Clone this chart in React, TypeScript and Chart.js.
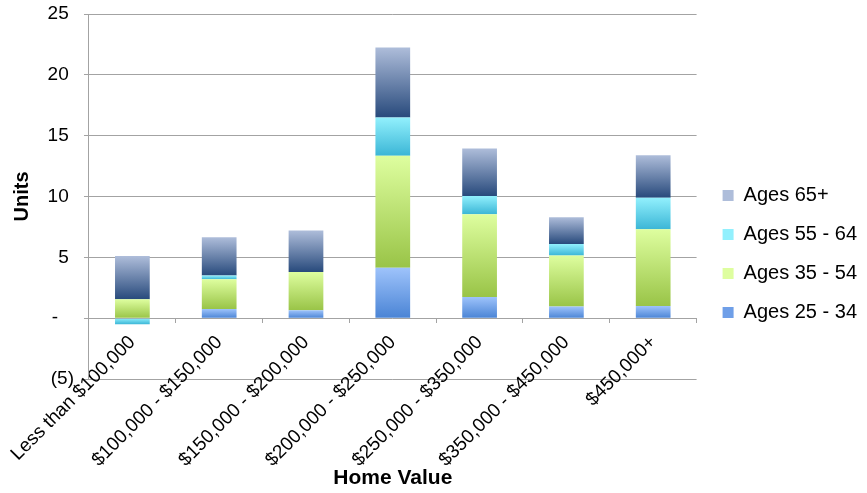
import React, { useEffect, useRef } from 'react';
import { Chart, registerables } from 'chart.js';

Chart.register(...registerables);

const categories = [
  'Less than $100,000',
  '$100,000 - $150,000',
  '$150,000 - $200,000',
  '$200,000 - $250,000',
  '$250,000 - $350,000',
  '$350,000 - $450,000',
  '$450,000+',
];
const seriesNames = ['Ages 25 - 34', 'Ages 35 - 54', 'Ages 55 - 64', 'Ages 65+'];
const ages25to34 = [0, 0.75, 0.65, 4.15, 1.75, 0.95, 1.0];
const ages35to54 = [1.55, 2.45, 3.15, 9.2, 6.8, 4.2, 6.3];
const ages55to64 = [-0.5, 0.3, 0, 3.15, 1.5, 0.95, 2.6];
const ages65plus = [3.55, 3.15, 3.4, 5.75, 3.9, 2.2, 3.5];
const yMin = -5;
const yMax = 25;
const yStep = 5;

const series = [ages25to34, ages35to54, ages55to64, ages65plus];
// blue, green, cyan, navy (top -> bottom of each segment)
const topColors = ['#9ec3fb', '#defe9f', '#92f0fd', '#aebdda'];
const bottomColors = ['#4a84d5', '#99c447', '#3bb6d6', '#284a7c'];
const legendColors = ['#6f9fe8', '#b9e06f', '#5fd3ec', '#5b77a6'];

const FONT = "'Liberation Sans', Arial, Helvetica, sans-serif";

function makeBg(si: number) {
  return (ctx: any) => {
    if (ctx.type !== 'data') return legendColors[si];
    const chart = ctx.chart;
    const y = chart.scales && chart.scales.y;
    if (!y) return legendColors[si];
    const i = ctx.dataIndex;
    const v = series[si][i];
    let start = 0;
    for (let k = 0; k < si; k++) {
      const w = series[k][i];
      if (w >= 0 === v >= 0) start += w;
    }
    const end = start + v;
    const pTop = y.getPixelForValue(Math.max(start, end));
    const pBot = y.getPixelForValue(Math.min(start, end));
    if (!isFinite(pTop) || !isFinite(pBot) || pBot - pTop < 0.5) return legendColors[si];
    const g = chart.ctx.createLinearGradient(0, pTop, 0, pBot);
    g.addColorStop(0, topColors[si]);
    g.addColorStop(1, bottomColors[si]);
    return g;
  };
}

function formatY(v: number): string {
  if (v === 0) return '-   ';
  if (v < 0) return '(' + Math.abs(v) + ')';
  return v + ' ';
}

export default function App() {
  const ref = useRef<HTMLCanvasElement | null>(null);
  useEffect(() => {
    if (!ref.current) return;
    Chart.defaults.font.family = FONT;
    Chart.defaults.color = '#000';
    const gridColor = '#a3a3a3';
    const chart = new Chart(ref.current, {
      type: 'bar',
      data: {
        labels: categories,
        datasets: series.map((d, si) => ({
          label: seriesNames[si],
          data: d,
          backgroundColor: makeBg(si) as any,
          borderWidth: 0,
          xAxisID: 'x',
          yAxisID: 'y',
          categoryPercentage: 1,
          barPercentage: 0.4,
        })),
      },
      options: {
        responsive: false,
        animation: false,
        layout: { padding: { top: 0, right: 0, bottom: 0, left: 0 } },
        plugins: {
          tooltip: { enabled: false },
          legend: {
            position: 'right',
            reverse: true,
            title: { display: true, text: ' ', font: { size: 10 }, padding: { top: 3, bottom: 0 } },
            labels: {
              boxWidth: 11,
              boxHeight: 11,
              padding: 19,
              color: '#000',
              font: { size: 20, family: FONT },
            },
          },
        },
        scales: {
          x: {
            type: 'category',
            position: 'bottom',
            stacked: true,
            offset: true,
            grid: { display: false },
            border: { display: false },
            ticks: { display: false },
            title: {
              display: true,
              text: 'Home Value',
              color: '#000',
              font: { size: 21, weight: 'bold', family: FONT },
              padding: { top: 0, bottom: 2 },
            },
            afterFit: (s: any) => {
              s.height = 114;
            },
          },
          x0: {
            type: 'category',
            axis: 'x',
            position: { y: 0 } as any,
            offset: true,
            grid: {
              display: true,
              drawOnChartArea: false,
              drawTicks: true,
              tickLength: 5,
              offset: true,
              color: gridColor,
            },
            border: { display: false },
            ticks: {
              display: true,
              autoSkip: false,
              maxRotation: 45,
              minRotation: 45,
              padding: 8,
              color: '#000',
              font: { size: 19, family: FONT },
            },
          },
          y: {
            type: 'linear',
            position: 'left',
            stacked: true,
            min: yMin,
            max: yMax,
            ticks: {
              stepSize: yStep,
              padding: 10,
              color: '#000',
              font: { size: 19, family: FONT },
              callback: (v: any) => formatY(Number(v)),
            },
            grid: { color: gridColor, tickLength: 5, drawTicks: true },
            border: { display: true, color: gridColor },
            title: {
              display: true,
              text: 'Units',
              color: '#000',
              font: { size: 20, weight: 'bold', family: FONT },
              padding: { top: 9, bottom: 0 },
            },
            afterFit: (s: any) => {
              s.width = 87;
              s.paddingTop = 14;
            },
          },
          gap: {
            type: 'linear',
            axis: 'y',
            position: 'right',
            display: false,
            grid: { display: false },
            border: { display: false },
            ticks: { display: false },
            afterFit: (s: any) => {
              s.width = 7;
            },
          },
        },
      },
    } as any);
    return () => chart.destroy();
  }, []);
  return (
    <div style={{ position: 'absolute', left: 0, top: 0, width: 867, height: 493, background: '#fff' }}>
      <canvas ref={ref} width={867} height={493} style={{ width: 867, height: 493, display: 'block' }} />
    </div>
  );
}
